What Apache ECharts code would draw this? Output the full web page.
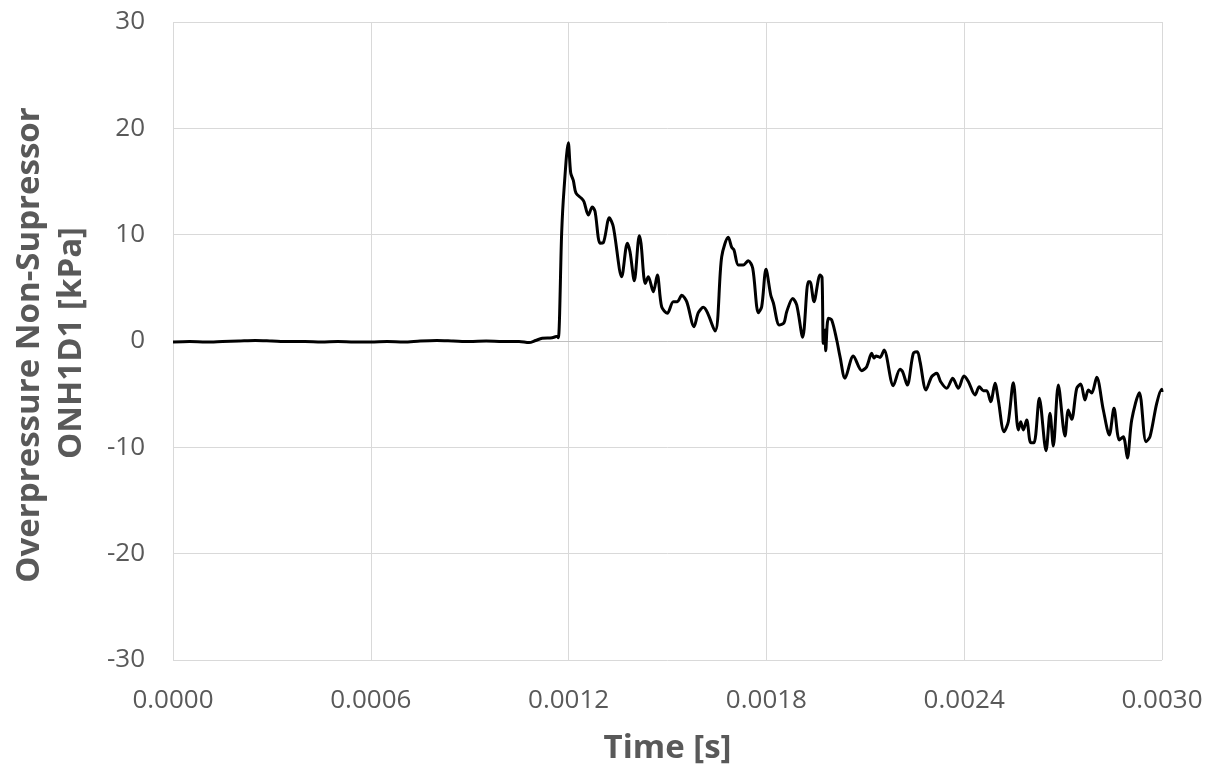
<!DOCTYPE html>
<html>
<head>
<meta charset="utf-8">
<script src="https://cdn.jsdelivr.net/npm/echarts@6/dist/echarts.min.js"></script>
<style>html,body{margin:0;padding:0;background:#fff}#c{width:1215px;height:770px}</style>
</head>
<body>
<div id="c"></div>
<script>
// Time [s]
var timeS = [
0,0.00005,0.0001,0.00015,0.0002,0.00025,0.0003,0.00035,0.0004,0.00045,0.0005,0.00055,0.0006,0.00065,0.0007,0.00075,0.0008,0.00085,0.0009,0.00095,0.001,0.00105,0.00108,0.0011,0.00112,0.00115,0.001166,0.001169,
0.001179,0.001186,0.0011991,0.0012064,0.0012143,0.0012225,0.0012397,0.0012467,0.0012598,0.0012719,0.0012801,0.0012953,0.0013053,0.0013235,0.0013356,0.0013611,0.0013781,0.0013863,0.0013993,0.0014145,0.0014196,0.0014327,0.0014418,0.001457,0.0014691,0.0014824,0.0014994,0.0015176,0.0015298,0.0015431,0.0015583,0.0015804,0.0015935,0.0016086,0.0016441,0.0016644,0.0016845,0.0016948,0.0017017,0.0017148,0.00173,0.0017451,0.0017585,0.0017755,0.0017857,0.0017988,0.0018131,0.001821,0.0018392,0.0018534,0.0018616,0.0018798,0.0018919,0.0019101,0.0019271,0.0019323,0.0019444,0.0019626,0.0019687,0.0019726,0.0019778,0.0019799,0.0019878,0.0019981,0.0020133,0.0020233,0.0020384,0.0020636,0.0020891,0.0021043,0.0021194,0.0021264,0.0021325,0.0021446,0.0021568,0.002185,0.0022053,0.0022134,0.0022274,0.0022456,0.0022578,0.002266,0.0022842,0.0023014,0.0023166,0.0023287,0.0023469,0.0023652,0.0023822,0.0023994,0.0024125,0.0024328,0.0024459,0.002458,0.0024683,0.0024804,0.0024935,0.0025035,0.0025208,0.0025338,0.002549,0.0025642,0.0025714,0.0025793,0.0025896,0.0026018,0.0026118,0.0026279,0.0026482,0.0026603,0.0026703,0.0026855,0.0027058,0.0027158,0.0027261,0.0027413,0.0027534,0.0027665,0.0027765,0.0027868,0.002802,0.002822,0.0028402,0.0028544,0.0028705,0.0028827,0.0028948,0.0029081,0.0029312,0.0029515,0.0029636,0.002984,0.0029991,0.003
];
// Overpressure [kPa]
var pressureKPa = [
-0.1,-0.05,-0.1,-0.05,0.0,0.05,0.0,-0.05,-0.05,-0.1,-0.05,-0.1,-0.1,-0.05,-0.1,0.0,0.05,0.0,-0.05,0.0,-0.05,-0.05,-0.15,0.05,0.25,0.3,0.45,0.3,
10.2,14.2,18.65,15.8,15.1,13.9,13.4,13.1,11.85,12.6,12.2,9.2,9.25,11.6,10.75,6.05,9.2,8.4,5.67,9.9,9.2,5.4,6.05,4.64,6.2,3.2,2.6,3.7,3.7,4.3,3.7,1.35,2.66,3.17,0.94,7.93,9.75,8.8,8.56,7.15,7.15,7.55,6.84,2.66,3.23,6.74,4.33,3.6,1.5,1.72,2.76,4.0,3.39,0.35,5.58,5.58,3.7,6.2,6.0,-0.22,1.03,-0.91,2.13,1.98,0.09,-1.47,-3.5,-1.41,-2.79,-2.41,-1.16,-1.6,-1.4,-1.54,-0.85,-4.2,-2.66,-2.9,-4.14,-1.16,-1.0,-1.94,-4.6,-3.35,-3.04,-3.83,-4.45,-3.51,-4.45,-3.29,-3.8,-5.08,-4.3,-4.67,-4.67,-5.71,-3.98,-5.55,-8.53,-7.59,-3.92,-8.37,-7.6,-8.37,-7.43,-9.56,-9.56,-5.39,-10.32,-6.8,-9.88,-4.14,-8.94,-6.49,-7.37,-4.45,-4.05,-5.55,-4.6,-4.9,-3.42,-6.49,-8.84,-6.33,-9.31,-9.0,-11.0,-7.43,-4.86,-9.47,-9.0,-5.86,-4.54,-4.8
];
var xTicks = {min: 0, max: 0.003, interval: 0.0006};
var yTicks = {min: -30, max: 30, interval: 10};

var seriesData = timeS.map(function (t, i) { return [t, pressureKPa[i]]; });
var txt = '#595959', grid = '#d9d9d9', fam = '"Open Sans", sans-serif';
var chart = echarts.init(document.getElementById('c'));
chart.setOption({
  animation: false,
  backgroundColor: '#fff',
  grid: {left: 173, right: 53, top: 22, bottom: 110},
  xAxis: {
    type: 'value', min: xTicks.min, max: xTicks.max, interval: xTicks.interval,
    axisLine: {show: false}, axisTick: {show: false},
    splitLine: {show: true, lineStyle: {color: grid, width: 1}},
    axisLabel: {color: txt, fontSize: 26, fontFamily: fam, margin: 28,
      formatter: function (v) { return v.toFixed(4); }},
    name: 'Time [s]', nameLocation: 'middle', nameGap: 72,
    nameTextStyle: {color: txt, fontSize: 33, fontWeight: 'bold', fontFamily: fam}
  },
  yAxis: {
    type: 'value', min: yTicks.min, max: yTicks.max, interval: yTicks.interval,
    axisLine: {show: false}, axisTick: {show: false},
    splitLine: {show: true, lineStyle: {color: grid, width: 1}},
    axisLabel: {color: txt, fontSize: 26, fontFamily: fam, margin: 28}
  },
  graphic: [
    {type: 'text', x: 30, y: 345, rotation: Math.PI / 2,
      style: {text: 'Overpressure Non-Supressor', fill: txt, font: 'bold 33px "Open Sans", sans-serif', textAlign: 'center', textVerticalAlign: 'middle'}},
    {type: 'text', x: 72, y: 343, rotation: Math.PI / 2,
      style: {text: 'ONH1D1 [kPa]', fill: txt, font: 'bold 33px "Open Sans", sans-serif', textAlign: 'center', textVerticalAlign: 'middle'}}
  ],
  series: [{
    type: 'line', data: seriesData, showSymbol: false, symbol: 'none',
    smooth: 0.3,
    lineStyle: {color: '#000', width: 3}, z: 5,
    markLine: {silent: true, symbol: 'none', label: {show: false},
      lineStyle: {color: '#bfbfbf', type: 'solid', width: 1}, data: [{yAxis: 0}], z: 1}
  }]
});
</script>
</body>
</html>
